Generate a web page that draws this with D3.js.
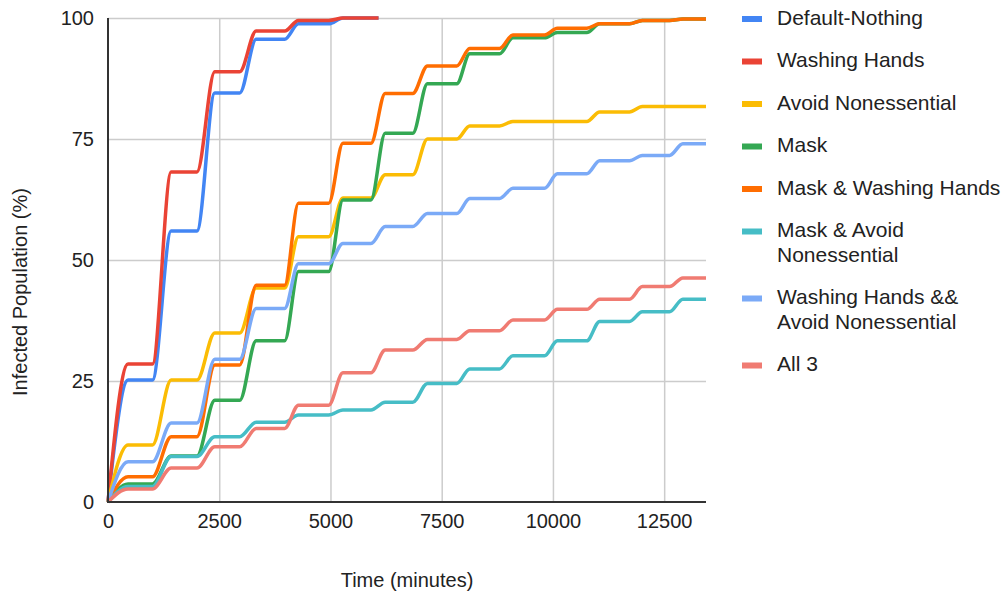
<!DOCTYPE html>
<html>
<head>
<meta charset="utf-8">
<script src="https://cdn.jsdelivr.net/npm/d3@7/dist/d3.min.js"></script>
<style>
  body { margin: 0; background: #fff; }
  text { font-family: Arial, "Liberation Sans", sans-serif; }
</style>
</head>
<body>
<div id="chart"></div>
<script>
// each day the infection count climbs between riseStart[k] and riseEnd[k], then stays flat
var riseStart = [0, 1000, 2000, 2960, 3970, 4960, 5910, 6850, 7840, 8800, 9810, 10760, 11720, 12620];
var riseEnd   = [450, 1420, 2400, 3330, 4280, 5280, 6230, 7180, 8130, 9100, 10100, 11050, 12010, 12920];

// plateau level (%) reached after each daily rise
var defaultNothing  = [25.2, 56.0, 84.5, 95.6, 98.8, 100];
var washingHands    = [28.5, 68.2, 88.9, 97.3, 99.5, 100];
var avoidNonEss     = [11.8, 25.2, 34.9, 44.2, 54.8, 62.8, 67.6, 75.0, 77.7, 78.6, 78.6, 80.6, 81.7, 81.7];
var mask            = [3.7, 9.5, 21.0, 33.3, 47.6, 62.4, 76.2, 86.4, 92.6, 95.9, 97.0, 98.8, 99.5, 99.8];
var maskWashing     = [5.2, 13.5, 28.3, 44.8, 61.7, 74.1, 84.4, 90.1, 93.7, 96.5, 97.9, 98.8, 99.5, 99.8];
var maskAvoid       = [3.2, 9.4, 13.5, 16.5, 18.0, 19.0, 20.6, 24.5, 27.5, 30.2, 33.3, 37.3, 39.3, 41.9];
var washingAvoid    = [8.3, 16.3, 29.5, 40.0, 49.2, 53.4, 56.9, 59.6, 62.7, 64.8, 67.8, 70.5, 71.6, 74.0];
var all3            = [2.7, 7.0, 11.4, 15.2, 20.0, 26.7, 31.4, 33.6, 35.4, 37.6, 39.8, 41.9, 44.5, 46.3];

var legendLines = [["Default-Nothing"], ["Washing Hands"], ["Avoid Nonessential"], ["Mask"],
  ["Mask & Washing Hands"], ["Mask & Avoid", "Nonessential"], ["Washing Hands &&", "Avoid Nonessential"], ["All 3"]];
var seriesLevels = [defaultNothing, washingHands, avoidNonEss, mask, maskWashing, maskAvoid, washingAvoid, all3];
var seriesEnd = [6080, 6080, 13440, 13440, 13440, 13440, 13440, 13440];
var colors = ["#4285F4", "#EA4335", "#FBBC04", "#34A853", "#FF6D01", "#46BDC6", "#7BAAF7", "#F07B72"];

var xTicks = [0, 2500, 5000, 7500, 10000, 12500];
var yTicks = [0, 25, 50, 75, 100];

var w = 1006;
var h = 600;
var plotLeft = 108, plotRight = 706, plotTop = 18, plotBottom = 502;

var svg = d3.select("#chart")
  .append("svg")
  .attr("width", w)
  .attr("height", h);

var x = d3.scaleLinear().domain([0, 13440]).range([plotLeft, plotRight]);
var y = d3.scaleLinear().domain([0, 100]).range([plotBottom, plotTop]);

// gridlines
svg.append("g")
  .attr("transform", "translate(0," + plotBottom + ")")
  .call(d3.axisBottom(x).tickValues(xTicks.slice(1)).tickSize(-(plotBottom - plotTop)).tickFormat(""))
  .call(function(g) { g.select(".domain").remove(); })
  .selectAll("line").attr("stroke", "#cccccc").attr("stroke-width", 1.5);

svg.append("g")
  .attr("transform", "translate(" + plotLeft + ",0)")
  .call(d3.axisLeft(y).tickValues(yTicks.slice(1)).tickSize(-(plotRight - plotLeft)).tickFormat(""))
  .call(function(g) { g.select(".domain").remove(); })
  .selectAll("line").attr("stroke", "#cccccc").attr("stroke-width", 1.5);

// tick labels
var xAxis = svg.append("g")
  .attr("transform", "translate(0," + plotBottom + ")")
  .call(d3.axisBottom(x).tickValues(xTicks).tickSize(0).tickPadding(12).tickFormat(d3.format("d")));
xAxis.select(".domain").remove();
xAxis.selectAll("text").attr("font-size", 20).attr("fill", "#222")
  .attr("font-family", "Arial, 'Liberation Sans', sans-serif");

var yAxis = svg.append("g")
  .attr("transform", "translate(" + plotLeft + ",0)")
  .call(d3.axisLeft(y).tickValues(yTicks).tickSize(0).tickPadding(14));
yAxis.select(".domain").remove();
yAxis.selectAll("text").attr("font-size", 20).attr("fill", "#222")
  .attr("font-family", "Arial, 'Liberation Sans', sans-serif");

// lines
var line = d3.line()
  .x(function(d) { return x(d[0]); })
  .y(function(d) { return y(d[1]); })
  .curve(d3.curveMonotoneX);

seriesLevels.forEach(function(levels, i) {
  var pts = [[0, 0]];
  levels.forEach(function(v, k) {
    pts.push([riseEnd[k], v]);
    pts.push([k + 1 < levels.length ? riseStart[k + 1] : seriesEnd[i], v]);
  });
  svg.append("path")
    .datum(pts)
    .attr("fill", "none")
    .attr("stroke", colors[i])
    .attr("stroke-width", 3.5)
    .attr("stroke-linejoin", "round")
    .attr("d", line);
});

// axis lines on top
svg.append("line").attr("x1", plotLeft).attr("x2", plotLeft).attr("y1", plotTop).attr("y2", plotBottom + 1)
  .attr("stroke", "#333").attr("stroke-width", 2);
svg.append("line").attr("x1", plotLeft - 1).attr("x2", plotRight).attr("y1", plotBottom).attr("y2", plotBottom)
  .attr("stroke", "#333").attr("stroke-width", 2);

// axis titles
svg.append("text")
  .attr("x", (plotLeft + plotRight) / 2)
  .attr("y", 582)
  .attr("text-anchor", "middle")
  .attr("dominant-baseline", "middle")
  .attr("font-size", 20)
  .attr("fill", "#222")
  .text("Time (minutes)");

svg.append("text")
  .attr("transform", "translate(22,292) rotate(-90)")
  .attr("text-anchor", "middle")
  .attr("dominant-baseline", "middle")
  .attr("font-size", 20)
  .attr("fill", "#222")
  .text("Infected Population (%)");

// legend
var ly = 19;
legendLines.forEach(function(lines, i) {
  var g = svg.append("g").attr("transform", "translate(0," + ly + ")");
  g.append("rect")
    .attr("x", 742).attr("y", -3)
    .attr("width", 20).attr("height", 6)
    .attr("fill", colors[i]);
  lines.forEach(function(t, j) {
    g.append("text")
      .attr("x", 777)
      .attr("y", j * 24.5)
      .attr("dominant-baseline", "middle")
      .attr("font-size", 21)
      .attr("fill", "#222")
      .text(t);
  });
  ly += 42.5 + (lines.length - 1) * 24.5;
});
</script>
</body>
</html>
